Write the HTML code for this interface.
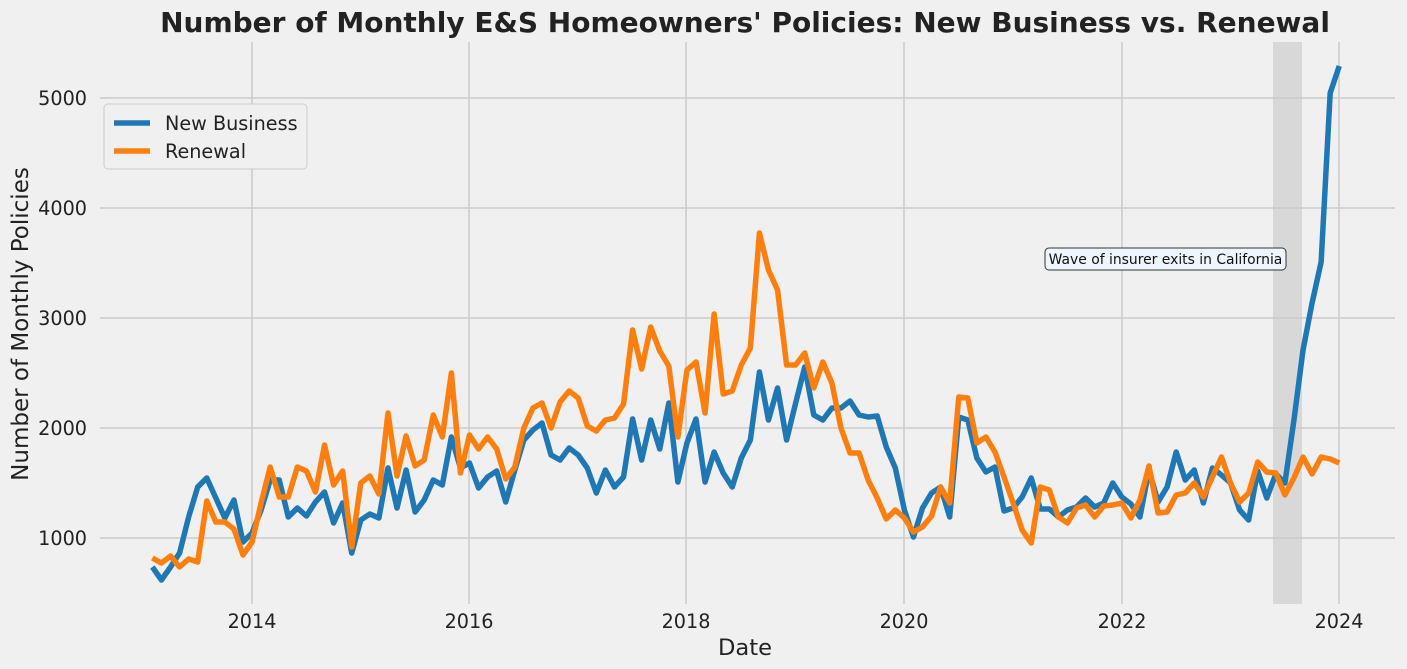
<!DOCTYPE html>
<html><head><meta charset="utf-8"><style>
html,body{margin:0;padding:0;background:#f0f0f0;}
svg{display:block;font-family:"DejaVu Sans","Liberation Sans",sans-serif;}
</style></head><body>
<svg width="1407" height="669" viewBox="0 0 1407 669" xmlns="http://www.w3.org/2000/svg">
<rect width="1407" height="669" fill="#f0f0f0"/>
<rect x="1273" y="42" width="29" height="562" fill="#d8d8d8"/>
<g stroke="#cbcbcb" stroke-width="1.5">
<line x1="100" y1="538" x2="1395" y2="538"/>
<line x1="100" y1="428" x2="1395" y2="428"/>
<line x1="100" y1="318" x2="1395" y2="318"/>
<line x1="100" y1="208" x2="1395" y2="208"/>
<line x1="100" y1="98" x2="1395" y2="98"/>
<line x1="252" y1="42" x2="252" y2="604"/>
<line x1="469" y1="42" x2="469" y2="604"/>
<line x1="686" y1="42" x2="686" y2="604"/>
<line x1="904" y1="42" x2="904" y2="604"/>
<line x1="1122" y1="42" x2="1122" y2="604"/>
<line x1="1339" y1="42" x2="1339" y2="604"/>
</g>
<g transform="translate(152.4,0) scale(9.06,1)" fill="none" stroke-width="5.5" stroke-linejoin="round" stroke-linecap="butt">
<polyline vector-effect="non-scaling-stroke" stroke="#1f77b4" points="0,567 1,580 2,567 3,553 4,517 5,487 6,478 7,498 8,518 9,500 10,542 11,533 12,510 13,480 14,480 15,517 16,508 17,516 18,502 19,492 20,523 21,503 22,553 23,520 24,514 25,518 26,468 27,508 28,470 29,512 30,500 31,480 32,485 33,437 34,468 35,463 36,488 37,477 38,471 39,502 40,470 41,440 42,430 43,423 44,455 45,460 46,448 47,455 48,468 49,493 50,470 51,487 52,477 53,419 54,460 55,420 56,449 57,403 58,482 59,443 60,419 61,482 62,452 63,473 64,487 65,458 66,440 67,372 68,420 69,388 70,440 71,403 72,367 73,415 74,420 75,408 76,408 77,401 78,415 79,417 80,416 81,447 82,468 83,510 84,537 85,508 86,493 87,487 88,517 89,417 90,420 91,458 92,472 93,467 94,511 95,508 96,497 97,478 98,509 99,509 100,517 101,510 102,507 103,498 104,507 105,503 106,483 107,497 108,504 109,517 110,470 111,502 112,487 113,452 114,480 115,470 116,503 117,468 118,475 119,483 120,510 121,520 122,471 123,498 124,474 125,483 126,420 127,350 128,303 129,262 130,93 131,66"/>
<polyline vector-effect="non-scaling-stroke" stroke="#ff7f0e" points="0,558 1,563 2,556 3,567 4,559 5,562 6,501 7,522 8,522 9,529 10,555 11,542 12,503 13,467 14,497 15,497 16,467 17,471 18,492 19,445 20,485 21,471 22,547 23,483 24,476 25,494 26,413 27,476 28,436 29,466 30,460 31,415 32,437 33,373 34,473 35,435 36,449 37,437 38,449 39,479 40,467 41,428 42,408 43,403 44,428 45,402 46,391 47,398 48,426 49,431 50,420 51,418 52,404 53,330 54,369 55,327 56,351 57,366 58,437 59,370 60,362 61,413 62,314 63,394 64,391 65,365 66,348 67,233 68,270 69,290 70,365 71,365 72,353 73,388 74,362 75,383 76,428 77,453 78,453 79,480 80,498 81,519 82,510 83,518 84,532 85,527 86,516 87,487 88,503 89,397 90,398 91,443 92,437 93,452 94,477 95,503 96,530 97,543 98,487 99,490 100,517 101,523 102,508 103,505 104,517 105,506 106,505 107,503 108,518 109,500 110,466 111,513 112,512 113,495 114,493 115,483 116,497 117,477 118,457 119,483 120,502 121,493 122,462 123,472 124,473 125,495 126,478 127,457 128,474 129,457 130,459 131,463"/>
</g>
<rect x="1045" y="248" width="241" height="22" rx="4" fill="#eef5fc" stroke="#333" stroke-width="1"/>
<text x="1165.5" y="264" font-size="13.9" text-anchor="middle" fill="#111">Wave of insurer exits in California</text>
<rect x="104" y="104" width="203" height="65" rx="4" fill="#f0f0f0" stroke="#cccccc" stroke-width="1"/>
<line x1="114" y1="123" x2="150" y2="123" stroke="#1f77b4" stroke-width="5.5"/>
<line x1="114" y1="151" x2="150" y2="151" stroke="#ff7f0e" stroke-width="5.5"/>
<text x="165" y="130" font-size="19.2" fill="#222">New Business</text>
<text x="165" y="158" font-size="19.2" fill="#222">Renewal</text>
<g font-size="19.2" fill="#222" text-anchor="end">
<text x="87" y="545">1000</text>
<text x="87" y="435">2000</text>
<text x="87" y="325">3000</text>
<text x="87" y="215">4000</text>
<text x="87" y="105">5000</text>
</g>
<g font-size="19.2" fill="#222" text-anchor="middle">
<text x="252" y="628">2014</text>
<text x="469" y="628">2016</text>
<text x="686" y="628">2018</text>
<text x="904" y="628">2020</text>
<text x="1122" y="628">2022</text>
<text x="1339" y="628">2024</text>
</g>
<text x="745" y="655" font-size="22.6" fill="#222" text-anchor="middle">Date</text>
<text transform="translate(28,324) rotate(-90)" font-size="23" fill="#222" text-anchor="middle">Number of Monthly Policies</text>
<text x="745" y="32" font-size="28" font-weight="bold" fill="#222" text-anchor="middle">Number of Monthly E&amp;S Homeowners' Policies: New Business vs. Renewal</text>
</svg>
</body></html>
